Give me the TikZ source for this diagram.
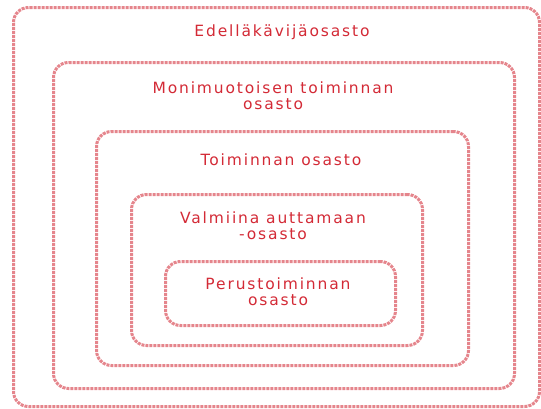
\documentclass[tikz,border=0pt]{standalone}
\usepackage{fontspec}
\setmainfont{DejaVu Sans}[LetterSpace=12]
\definecolor{lbl}{HTML}{D32A36}
\definecolor{edge}{HTML}{E5858C}
\begin{document}
\begin{tikzpicture}[x=1pt,y=-1pt,
  box/.style={draw=edge, line width=3pt, dash pattern=on 3pt off 1pt, rounded corners=15pt, anchor=north west, inner sep=0pt},
  lbl/.style={text=lbl, font=\fontsize{15.5}{16}\selectfont, align=center, inner sep=0pt}]
\useasboundingbox (0,0) rectangle (541,408);
\node[box, minimum width=526pt, minimum height=399pt] (b1) at (12,6) {};
\node[box, minimum width=461pt, minimum height=326pt] (b2) at (52,61) {};
\node[box, minimum width=372pt, minimum height=234pt] (b3) at (95,130) {};
\node[box, minimum width=291pt, minimum height=151pt] (b4) at (130,193) {};
\node[box, minimum width=230pt, minimum height=64pt] (b5) at (164,260) {};
\node[lbl] (t1) at (282,32) {Edelläkävijäosasto};
\node[lbl] (t2) at (273,96) {Monimuotoisen toiminnan\\osasto};
\node[lbl] (t3) at (281,160) {Toiminnan osasto};
\node[lbl] (t4) at (273,226) {Valmiina auttamaan\\-osasto};
\node[lbl] (t5) at (278,292) {Perustoiminnan\\osasto};
\end{tikzpicture}
\end{document}
